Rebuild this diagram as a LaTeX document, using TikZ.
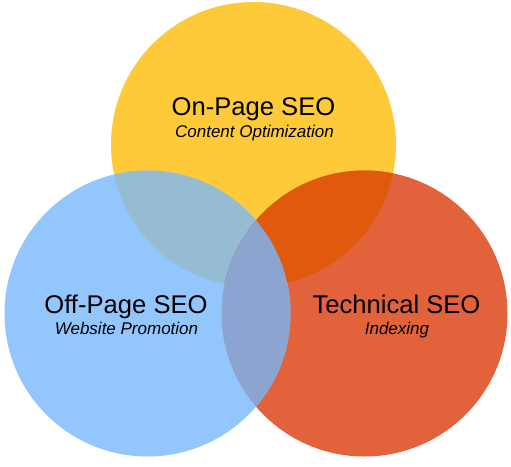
\documentclass[tikz,border=0pt]{standalone}
\usepackage{fontspec}
\setmainfont{Liberation Sans}
\definecolor{cy}{HTML}{FECA3A}
\definecolor{cb}{HTML}{93C6FC}
\definecolor{cr}{HTML}{E2623C}
\definecolor{cyb}{HTML}{95BCD2}
\definecolor{cyr}{HTML}{E0590D}
\definecolor{cbr}{HTML}{8BA5D0}
\tikzset{
  title/.style={anchor=base, inner sep=0pt, font=\fontsize{25.6}{30}\selectfont, text=black},
  subtitle/.style={anchor=base, inner sep=0pt, font=\fontsize{17}{20}\selectfont\itshape, text=black}
}
\begin{document}
\begin{tikzpicture}[x=1pt,y=-1pt]
\useasboundingbox (0,0) rectangle (511,466);
\fill[white] (0,0) rectangle (511,466);
\def\CY{(253.5,144.5) circle (142.5pt)}
\def\CB{(147.5,313.5) circle (143pt)}
\def\CR{(364.5,313.5) circle (143pt)}
\fill[cy] \CY;
\fill[cr] \CR;
\fill[cb] \CB;
\begin{scope}
  \clip \CY;
  \fill[cyb] \CB;
  \fill[cyr] \CR;
\end{scope}
\begin{scope}
  \clip \CB;
  \fill[cbr] \CR;
\end{scope}
\node[title] (on) at (253.5,115.5) {On-Page SEO};
\node[subtitle] (ons) at (254.5,137) {Content Optimization};
\node[title] (off) at (126,313.5) {Off-Page SEO};
\node[subtitle] (offs) at (126.5,334) {Website Promotion};
\node[title] (tech) at (396.5,313.5) {Technical SEO};
\node[subtitle] (techs) at (397,334) {Indexing};
\end{tikzpicture}
\end{document}
